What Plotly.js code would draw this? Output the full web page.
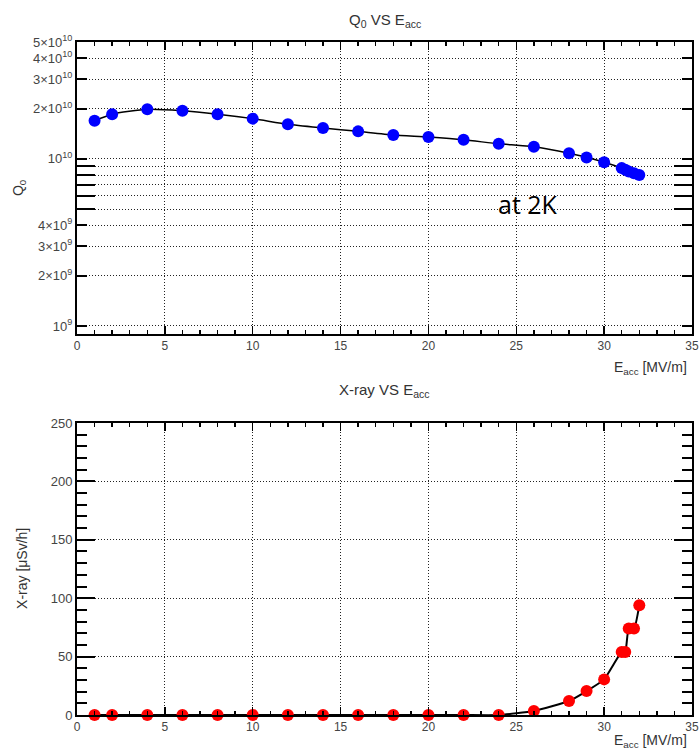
<!DOCTYPE html>
<html>
<head>
<meta charset="utf-8">
<script src="https://cdn.plot.ly/plotly-3.0.1.min.js"></script>
<style>html,body{margin:0;padding:0;background:#fff;}#chart{width:699px;height:750px;}</style>
</head>
<body>
<div id="chart"></div>
<script>
// Data
const eacc = [1, 2, 4, 6, 8, 10, 12, 14, 16, 18, 20, 22, 24, 26, 28, 29, 30, 31, 31.2, 31.4, 31.7, 32];
const q0 = [1.69e10, 1.85e10, 1.98e10, 1.94e10, 1.85e10, 1.74e10, 1.61e10, 1.53e10, 1.46e10, 1.39e10, 1.35e10, 1.30e10, 1.23e10, 1.18e10, 1.08e10, 1.02e10, 9.55e9, 8.8e9, 8.6e9, 8.4e9, 8.2e9, 8.0e9];
const xray = [0, 0, 0, 0, 0, 0, 0, 0, 0, 0, 0, 0, 0, 3.4, 12, 20.5, 30.5, 54, 54, 74, 74, 94];

const q0TickVals = [1e9, 2e9, 3e9, 4e9, 1e10, 2e10, 3e10, 4e10, 5e10];
const q0TickText = ['10<sup>9</sup>', '2×10<sup>9</sup>', '3×10<sup>9</sup>', '4×10<sup>9</sup>', '10<sup>10</sup>', '2×10<sup>10</sup>', '3×10<sup>10</sup>', '4×10<sup>10</sup>', '5×10<sup>10</sup>'];
const q0MinorVals = [5e9, 6e9, 7e9, 8e9, 9e9];

const xTickFont = {family: 'Liberation Sans, Arial, sans-serif', size: 12, color: '#444'};
const yTickFont = {family: 'Liberation Sans, Arial, sans-serif', size: 13, color: '#444'};
const titleFont = {family: 'Liberation Sans, Arial, sans-serif', size: 15, color: '#333'};
const DOT = '1px,2px';

const traces = [
  {x: eacc, y: q0, xaxis: 'x', yaxis: 'y', mode: 'lines+markers', type: 'scatter',
   line: {color: '#000', width: 1.5, shape: 'spline', smoothing: 0.6},
   marker: {color: '#0000ff', size: 12}, cliponaxis: false, hoverinfo: 'x+y'},
  {x: eacc, y: xray, xaxis: 'x2', yaxis: 'y2', mode: 'lines+markers', type: 'scatter',
   line: {color: '#000', width: 2, shape: 'spline', smoothing: 0.5},
   marker: {color: '#ff0000', size: 12}, cliponaxis: false, hoverinfo: 'x+y'}
];

const xCommon = {
  range: [0, 35], tickmode: 'linear', tick0: 0, dtick: 5,
  ticks: 'inside', ticklen: 8, tickwidth: 1.5, tickcolor: '#000',
  showline: true, linecolor: '#000', linewidth: 2, mirror: 'ticks',
  showgrid: true, gridcolor: '#222', griddash: DOT, gridwidth: 1,
  zeroline: false, tickfont: xTickFont,
  minor: {ticks: 'inside', dtick: 1, ticklen: 4, tickwidth: 1.5, tickcolor: '#000', showgrid: false}
};

const layout = {
  width: 699, height: 750,
  margin: {l: 77, r: 7, t: 42, b: 35},
  paper_bgcolor: '#fff', plot_bgcolor: '#fff',
  showlegend: false,
  xaxis: Object.assign({}, xCommon, {domain: [0, 1], anchor: 'y'}),
  yaxis: {
    type: 'log', range: [8.952, 10.699], domain: [0.5661, 1], anchor: 'x',
    tickmode: 'array', tickvals: q0TickVals, ticktext: q0TickText,
    ticks: 'inside', ticklen: 10, tickwidth: 2, tickcolor: '#000',
    showline: true, linecolor: '#000', linewidth: 2, mirror: 'ticks',
    showgrid: true, gridcolor: '#222', griddash: DOT, gridwidth: 1,
    zeroline: false, tickfont: yTickFont,
    minor: {ticks: 'inside', tickmode: 'array', tickvals: q0MinorVals, ticklen: 18, tickwidth: 2, tickcolor: '#000',
            showgrid: true, gridcolor: '#222', griddash: DOT, gridwidth: 1}
  },
  xaxis2: Object.assign({}, xCommon, {domain: [0, 1], anchor: 'y2'}),
  yaxis2: {
    range: [0, 250], domain: [0, 0.4339], anchor: 'x2',
    tickmode: 'linear', tick0: 0, dtick: 50,
    ticks: 'inside', ticklen: 18, tickwidth: 2, tickcolor: '#000',
    showline: true, linecolor: '#000', linewidth: 2, mirror: 'ticks',
    showgrid: true, gridcolor: '#222', griddash: DOT, gridwidth: 1,
    zeroline: false, tickfont: yTickFont,
    minor: {ticks: 'inside', dtick: 10, ticklen: 10, tickwidth: 2, tickcolor: '#000', showgrid: false}
  },
  annotations: [
    {text: 'Q<sub>0</sub> VS E<sub>acc</sub>', xref: 'paper', yref: 'paper', x: 0.5, y: 1, yshift: 22,
     xanchor: 'center', yanchor: 'middle', showarrow: false, font: titleFont},
    {text: 'X-ray VS E<sub>acc</sub>', xref: 'paper', yref: 'paper', x: 0.5, y: 0.4339, yshift: 32,
     xanchor: 'center', yanchor: 'middle', showarrow: false, font: titleFont},
    {text: 'E<sub>acc</sub> [MV/m]', xref: 'paper', yref: 'paper', x: 1, y: 0.5661, xshift: -3, yshift: -34,
     xanchor: 'right', yanchor: 'middle', showarrow: false, font: {family: 'Liberation Sans, Arial, sans-serif', size: 14, color: '#333'}},
    {text: 'E<sub>acc</sub> [MV/m]', xref: 'paper', yref: 'paper', x: 1, y: 0, xshift: -3, yshift: -26,
     xanchor: 'right', yanchor: 'middle', showarrow: false, font: {family: 'Liberation Sans, Arial, sans-serif', size: 14, color: '#333'}},
    {text: 'Q<sub>0</sub>', xref: 'paper', yref: 'paper', x: 0, y: 0.783, xshift: -58,
     xanchor: 'center', yanchor: 'middle', textangle: -90, showarrow: false, font: {family: 'Liberation Sans, Arial, sans-serif', size: 14, color: '#333'}},
    {text: 'X-ray [μSv/h]', xref: 'paper', yref: 'paper', x: 0, y: 0.217, xshift: -55,
     xanchor: 'center', yanchor: 'middle', textangle: -90, showarrow: false, font: {family: 'Liberation Sans, Arial, sans-serif', size: 14, color: '#333'}},
    {text: 'at 2K', xref: 'x', yref: 'y', x: 25.67, y: Math.log10(5.37e9), xanchor: 'center', yanchor: 'middle',
     showarrow: false, font: {family: 'Open Sans, sans-serif', size: 25, color: '#000'}}
  ]
};

Plotly.newPlot('chart', traces, layout, {staticPlot: true, displayModeBar: false});
</script>
</body>
</html>
